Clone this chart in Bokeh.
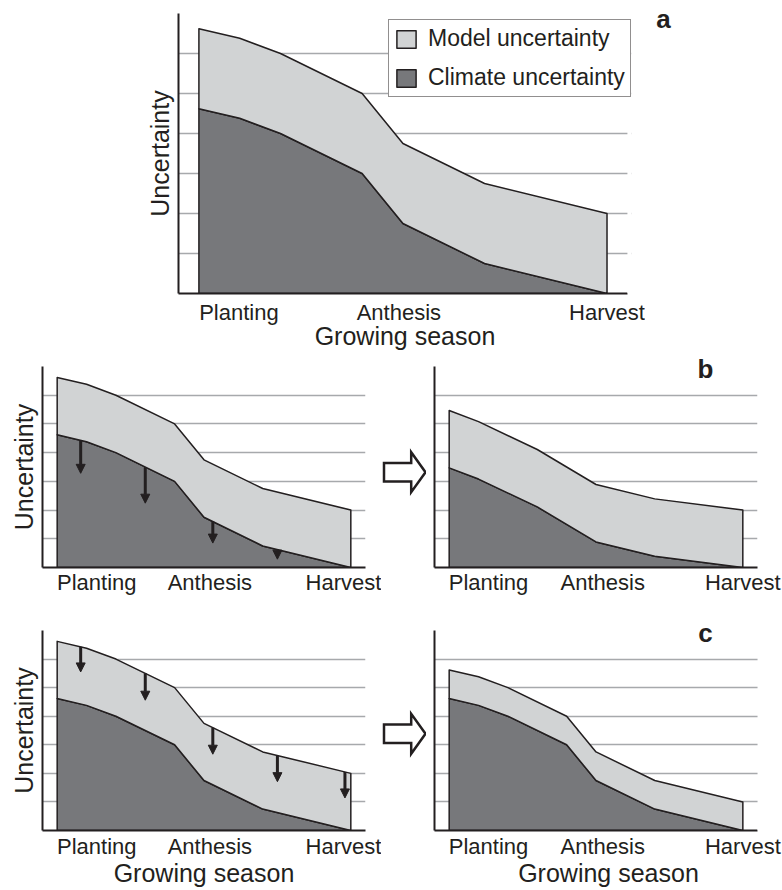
import numpy as np
from bokeh.plotting import figure
from bokeh.layouts import column, row
from bokeh.models import (FixedTicker, Range1d, Arrow, NormalHead, ColumnDataSource,
                          Label, Legend, LegendItem, BoxAnnotation)
from bokeh.embed import file_html
from bokeh.resources import INLINE

# ---------------- data ----------------
stage_labels = ["Planting", "Anthesis", "Harvest"]
season_x = [0, 1, 2, 4, 5, 7, 10]
climate_now = [4.62, 4.38, 4.0, 3.0, 1.75, 0.75, 0.0]
model_now = [2.0, 2.0, 2.0, 2.0, 2.0, 2.0, 2.0]

season_x_b = [0, 1, 3, 5, 7, 10]
climate_b = [3.47, 3.08, 2.11, 0.89, 0.39, 0.0]
model_b = [2.0, 2.0, 2.0, 2.0, 2.0, 2.0]

climate_c = [4.62, 4.38, 4.0, 3.0, 1.75, 0.75, 0.0]
model_c = [1.0, 1.0, 1.0, 1.0, 1.0, 1.0, 1.0]

arrow_b_x = [0.8, 3.0, 5.3, 7.5]
arrow_b_tip = [3.28, 2.24, 0.85, 0.29]
arrow_c_x = [0.8, 3.0, 5.3, 7.5, 9.8]
arrow_c_tip = [5.55, 4.56, 2.67, 1.71, 1.14]

grid_levels = [1, 2, 3, 4, 5, 6]

# ---------------- style ----------------
FONT = "Liberation Sans"
INK = "#231f20"
DARK = "#77787b"
LIGHT = "#d1d3d4"
GRID = "#a7a9ac"


def panel(width, height, borders, xs, climate, model, ticks, ylabel=None, xlabel=None,
          tick_standoff=5, label_standoff=0, y_top=7.0, x_end=10.5):
    left, right, top, bottom = borders
    p = figure(width=width, height=height, x_range=Range1d(-0.5, x_end), y_range=Range1d(0, y_top),
               output_backend="svg", toolbar_location=None, title=None,
               min_border_left=left, min_border_right=right,
               min_border_top=top, min_border_bottom=bottom)
    p.outline_line_color = None
    p.background_fill_color = "white"
    p.border_fill_color = "white"

    upper = [c + m for c, m in zip(climate, model)]
    r_clim = p.patch(xs + [xs[-1], xs[0]], climate + [0, 0], fill_color=DARK,
                     line_color=INK, line_width=1.5, line_join="round")
    r_model = p.patch(xs + xs[::-1], upper + climate[::-1], fill_color=LIGHT,
                      line_color=INK, line_width=1.5, line_join="round")

    p.xgrid.visible = False
    p.ygrid.ticker = FixedTicker(ticks=grid_levels)
    p.ygrid.grid_line_color = GRID
    p.ygrid.grid_line_width = 1.5

    for ax in (p.xaxis[0], p.yaxis[0]):
        ax.axis_line_color = INK
        ax.axis_line_width = 2
        ax.major_tick_line_color = None
        ax.minor_tick_line_color = None
        ax.major_tick_out = 0
        ax.major_tick_in = 0
        ax.axis_label_text_font = FONT
        ax.axis_label_text_font_size = "25px"
        ax.axis_label_text_font_style = "normal"
        ax.axis_label_text_color = INK
        ax.major_label_text_font = FONT
        ax.major_label_text_color = INK

    xa = p.xaxis[0]
    xa.ticker = FixedTicker(ticks=ticks)
    xa.major_label_overrides = {t: s for t, s in zip(ticks, stage_labels)}
    xa.major_label_text_font_size = "22px"
    xa.major_label_standoff = tick_standoff
    xa.bounds = (-0.5, 10.5)
    if xlabel:
        xa.axis_label = xlabel
        xa.axis_label_standoff = label_standoff

    ya = p.yaxis[0]
    ya.ticker = FixedTicker(ticks=[])
    ya.major_label_standoff = 0
    ya.bounds = (0, 7)
    if ylabel:
        ya.axis_label = ylabel
        ya.axis_label_standoff = 5

    if x_end > 10.5:
        # keep the grid lines ending at the end of the x axis
        p.add_layout(BoxAnnotation(left=10.5, fill_color="white", fill_alpha=1.0,
                                   line_color=None, line_alpha=0))
    return p, r_clim, r_model


def add_arrows(p, ax_x, base_x, base_y, tips):
    src = ColumnDataSource(dict(x0=ax_x, y0=list(np.interp(ax_x, base_x, base_y)),
                                x1=ax_x, y1=tips))
    p.add_layout(Arrow(end=NormalHead(size=9, fill_color=INK, line_color=INK, line_width=1),
                       x_start="x0", y_start="y0", x_end="x1", y_end="y1", source=src,
                       line_color=INK, line_width=3))


def spacer_fig(width, height, x_span, y_span):
    # blank canvas in page-pixel coordinates (y downwards) for decorations between panels
    s = figure(width=width, height=height, x_range=Range1d(*x_span), y_range=Range1d(*y_span),
               x_axis_type=None, y_axis_type=None, output_backend="svg", toolbar_location=None,
               title=None, min_border=0, min_border_left=0, min_border_right=0,
               min_border_top=0, min_border_bottom=0)
    s.outline_line_color = None
    s.background_fill_color = "white"
    s.border_fill_color = "white"
    s.grid.visible = False
    return s


def block_arrow(s, x_tail, y_mid):
    x_neck, x_tip = 410.7, 425.0
    head, shaft = 20.0, 9.2
    xs = [x_tail, x_neck, x_neck, x_tip, x_neck, x_neck, x_tail]
    ys = [y_mid - shaft, y_mid - shaft, y_mid - head, y_mid, y_mid + head, y_mid + shaft, y_mid + shaft]
    s.patch(xs, ys, fill_color="white", line_color=INK, line_width=2.5, line_join="miter")


def tag(p, text, x, y):
    p.add_layout(Label(x=x, y=y, text=text, text_font=FONT, text_font_style="bold",
                       text_font_size="26px", text_color=INK, text_align="center",
                       text_baseline="alphabetic"))


def cell(fig):
    # wrap each figure so that the row does not align the plot frames with each other
    return column(fig)


# ---------------- panel a ----------------
pa, ra_clim, ra_model = panel(645, 355, (178, 14, 13, 62), season_x, climate_now, model_now,
                              [0.98, 4.9, 10], ylabel="Uncertainty", xlabel="Growing season",
                              tick_standoff=6, label_standoff=-6, x_end=10.6)
legend = Legend(items=[LegendItem(label="Model uncertainty", renderers=[ra_model]),
                       LegendItem(label="Climate uncertainty", renderers=[ra_clim])],
                location=(210, 196), margin=0, padding=5, spacing=12,
                glyph_width=24, glyph_height=22, label_standoff=10,
                label_text_font=FONT, label_text_font_size="23px", label_text_color=INK,
                border_line_color=INK, border_line_width=1.5, background_fill_alpha=1.0)
pa.add_layout(legend)

ta = spacer_fig(137, 355, (645, 782), (355, 0))
tag(ta, "a", 663, 18)

# ---------------- panel b ----------------
left_ticks = [1.35, 5.2, 9.75]
right_ticks = [1.34, 5.23, 10]
pbl, _, _ = panel(381, 260, (42, 16, 11, 48), season_x, climate_now, model_now, left_ticks,
                  ylabel="Uncertainty", tick_standoff=2)
add_arrows(pbl, arrow_b_x, season_x, climate_now, arrow_b_tip)

gb = spacer_fig(45, 260, (381, 426), (615, 355))
block_arrow(gb, 383.5, 471.7)

pbr, _, _ = panel(356, 260, (8, 25, 0, 48), season_x_b, climate_b, model_b, right_ticks,
                  tick_standoff=2, y_top=7 * 212 / 201)
tag(pbr, "b", 8.73, 6.9)

# ---------------- panel c ----------------
pcl, _, _ = panel(381, 274, (42, 16, 15, 59), season_x, climate_now, model_now, left_ticks,
                  ylabel="Uncertainty", xlabel="Growing season", tick_standoff=3, label_standoff=-3)
upper_now = [c + m for c, m in zip(climate_now, model_now)]
add_arrows(pcl, arrow_c_x, season_x, upper_now, arrow_c_tip)

gc = spacer_fig(45, 274, (381, 426), (889, 615))
block_arrow(gc, 383.5, 733.3)

pcr, _, _ = panel(356, 274, (8, 0, 0, 59), season_x, climate_c, model_c, right_ticks,
                  xlabel="Growing season", tick_standoff=3, label_standoff=-3,
                  y_top=7 * 215 / 200, x_end=11.35)
tag(pcr, "c", 8.73, 6.93)

layout = column(row(cell(pa), cell(ta)),
                row(cell(pbl), cell(gb), cell(pbr)),
                row(cell(pcl), cell(gc), cell(pcr)))

with open("out.html", "w") as f:
    f.write(file_html(layout, INLINE))
